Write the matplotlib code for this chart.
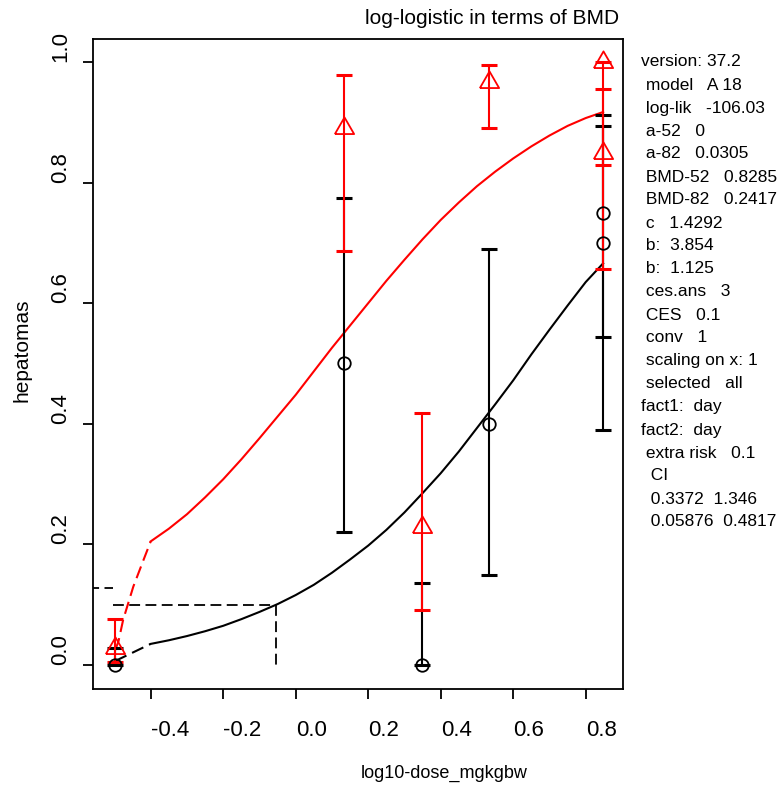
import matplotlib
matplotlib.use("Agg")
import matplotlib.pyplot as plt
import numpy as np

plt.rcParams['font.family'] = ['Liberation Sans', 'DejaVu Sans']

# ---- data (log10 dose) ----
xticks = [-0.4, -0.2, 0.0, 0.2, 0.4, 0.6, 0.8]
xtick_labels = ["-0.4", "-0.2", "0.0", "0.2", "0.4", "0.6", "0.8"]
yticks = [0.0, 0.2, 0.4, 0.6, 0.8, 1.0]
ytick_labels = ["0.0", "0.2", "0.4", "0.6", "0.8", "1.0"]

# group 52 (black circles)
g52_x = [-0.498, 0.133, 0.348, 0.533, 0.848, 0.848]
g52_y = [0.0, 0.50, 0.0, 0.40, 0.75, 0.70]
g52_lo = [0.0, 0.22, 0.0, 0.15, 0.544, 0.39]
g52_hi = [0.028, 0.775, 0.136, 0.69, 0.912, 0.893]

# group 82 (red triangles)
g82_x = [-0.498, 0.133, 0.348, 0.533, 0.848, 0.848]
g82_y = [0.028, 0.89, 0.229, 0.967, 1.0, 0.849]
g82_lo = [0.005, 0.687, 0.092, 0.89, 0.829, 0.657]
g82_hi = [0.076, 0.978, 0.418, 0.995, 1.0, 0.956]

# fitted curves
c52_dash_x = [-0.498, -0.40]
c52_dash_y = [0.0066, 0.035]
c52_x = [-0.40, -0.35, -0.30, -0.25, -0.20, -0.15, -0.10, -0.05, 0.00, 0.05,
         0.10, 0.15, 0.20, 0.25, 0.30, 0.35, 0.40, 0.45, 0.50, 0.55,
         0.60, 0.65, 0.70, 0.75, 0.80, 0.848]
c52_y = [0.035, 0.041, 0.048, 0.056, 0.065, 0.076, 0.088, 0.101, 0.116, 0.133,
         0.153, 0.175, 0.198, 0.224, 0.253, 0.285, 0.318, 0.354, 0.393, 0.432,
         0.472, 0.515, 0.556, 0.596, 0.635, 0.666]

c82_dash_x = [-0.498, -0.489, -0.476, -0.448, -0.420, -0.40]
c82_dash_y = [0.025, 0.039, 0.075, 0.130, 0.174, 0.205]
c82_x = [-0.40, -0.35, -0.30, -0.25, -0.20, -0.15, -0.10, -0.05, 0.00, 0.05,
         0.10, 0.15, 0.20, 0.25, 0.30, 0.35, 0.40, 0.45, 0.50, 0.55,
         0.60, 0.65, 0.70, 0.75, 0.80, 0.848]
c82_y = [0.205, 0.226, 0.250, 0.278, 0.308, 0.341, 0.376, 0.412, 0.448, 0.487,
         0.526, 0.563, 0.600, 0.637, 0.672, 0.706, 0.738, 0.767, 0.794, 0.818,
         0.840, 0.860, 0.878, 0.894, 0.907, 0.917]

# BMD reference lines
ces_level_52 = 0.1
ces_level_82 = 0.127
bmd52_x = -0.054
curve_start_x = -0.504
bmd82_x = -0.617

info_lines = [
    "version: 37.2",
    " model   A 18",
    " log-lik   -106.03",
    " a-52   0",
    " a-82   0.0305",
    " BMD-52   0.8285",
    " BMD-82   0.2417",
    " c   1.4292",
    " b:  3.854",
    " b:  1.125",
    " ces.ans   3",
    " CES   0.1",
    " conv   1",
    " scaling on x: 1",
    " selected   all",
    "fact1:  day",
    "fact2:  day",
    " extra risk   0.1",
    "  CI",
    "  0.3372  1.346",
    "  0.05876  0.4817",
]

W, H = 781, 785
fig = plt.figure(figsize=(W / 100, H / 100), dpi=100)
ax = fig.add_axes([93 / W, 1 - 689 / H, (623 - 93) / W, (689 - 39) / H])
ax.set_xlim(-0.5592, 0.9029)
ax.set_ylim(-0.0398, 1.0381)

dash = (0, (6, 3))
# curves
ax.plot(c52_dash_x, c52_dash_y, color='black', lw=1.5, ls=dash)
ax.plot(c52_x, c52_y, color='black', lw=1.5)
ax.plot(c82_dash_x, c82_dash_y, color='red', lw=1.5, ls=dash)
ax.plot(c82_x, c82_y, color='red', lw=1.5)

# BMD lines
ax.plot([curve_start_x, bmd52_x], [ces_level_52, ces_level_52], color='black', lw=1.3, ls=dash)
ax.plot([bmd52_x, bmd52_x], [ces_level_52, 0.0], color='black', lw=1.3, ls=dash)
ax.plot([bmd82_x, curve_start_x], [ces_level_82, ces_level_82], color='black', lw=1.3, ls=dash)

# error bars
g52_y_arr = np.array(g52_y)
ax.errorbar(g52_x, g52_y,
            yerr=[g52_y_arr - np.array(g52_lo), np.array(g52_hi) - g52_y_arr],
            fmt='none', ecolor='black', elinewidth=1.5, capsize=6, capthick=2.2)
g82_y_arr = np.array(g82_y)
ax.errorbar(g82_x, g82_y,
            yerr=[g82_y_arr - np.array(g82_lo), np.array(g82_hi) - g82_y_arr],
            fmt='none', ecolor='red', elinewidth=1.5, capsize=6, capthick=2.2)

tri = [(-1, -0.577), (1, -0.577), (0, 1.155), (-1, -0.577)]
ax.plot(g52_x, g52_y, ls='none', marker='o', ms=9, mfc='none', mec='black', mew=1.3)
ax.plot(g82_x, g82_y, ls='none', marker=tri, ms=16, mfc='none', mec='red', mew=1.3)

# axes style
for s in ax.spines.values():
    s.set_linewidth(1.3)
ax.set_xticks(xticks)
ax.set_xticklabels(xtick_labels, fontsize=16)
ax.set_yticks(yticks)
ax.set_yticklabels(ytick_labels, fontsize=16, rotation=90)
ax.tick_params(axis='both', length=7.5, width=1.3, direction='out')
ax.tick_params(axis='x', pad=15)
ax.tick_params(axis='y', pad=8)
for lab in ax.get_xticklabels():
    lab.set_ha('left')
for lab in ax.get_yticklabels():
    lab.set_va('bottom')

fig.text(365 / W, 1 - 19 / H, "log-logistic in terms of BMD", fontsize=15,
         ha='left', va='center')
fig.text(361 / W, 1 - 773 / H, "log10-dose_mgkgbw", fontsize=13,
         ha='left', va='center')
fig.text(22 / W, 1 - 350 / H, "hepatomas", fontsize=15, rotation=90,
         ha='center', va='center')

for i, line in enumerate(info_lines):
    fig.text(641 / W, 1 - (62 + i * 23) / H, line, fontsize=12.5,
             ha='left', va='center')

fig.savefig("out.png", dpi=100)
